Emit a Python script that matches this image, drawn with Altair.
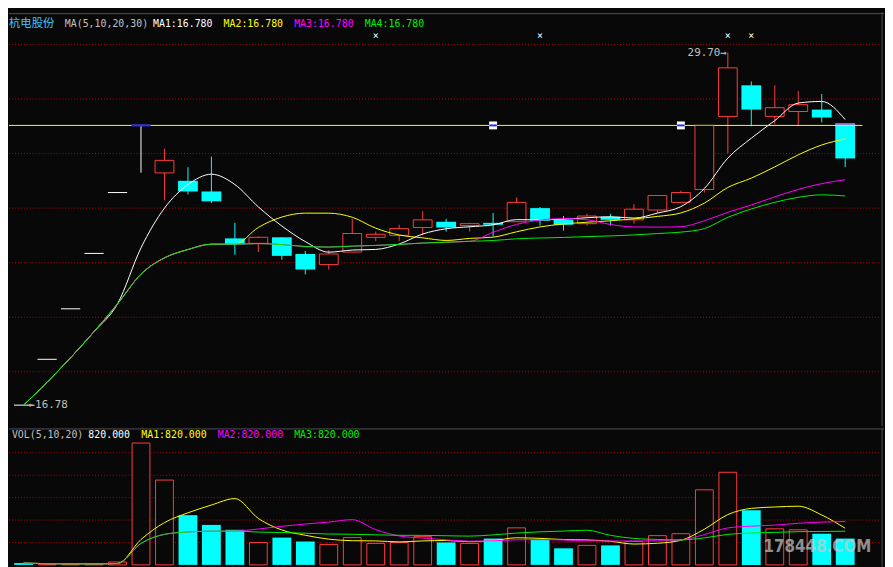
import altair as alt
import pandas as pd

# ---------------- data ----------------
days = list(range(1, 37))
opens = [16.78, 18.46, 20.31, 22.34, 24.57, 27.03, 25.29, 25.00, 24.61, 22.89,
         22.71, 22.93, 22.32, 21.93, 22.39, 22.93, 23.00, 23.29, 23.50, 23.36,
         23.46, 23.50, 24.00, 23.57, 23.43, 23.68, 23.57, 23.93, 24.21, 24.68,
         27.36, 28.50, 27.36, 27.54, 27.61, 27.11]
highs = [16.78, 18.46, 20.31, 22.34, 24.57, 27.03, 26.18, 25.50, 25.89, 23.46,
         22.96, 22.93, 22.43, 22.46, 23.61, 23.14, 23.39, 23.89, 23.61, 23.46,
         23.82, 24.39, 24.04, 23.71, 23.79, 23.79, 24.14, 24.46, 24.64, 27.03,
         29.70, 28.64, 28.50, 28.29, 28.18, 27.11]
lows = [16.78, 18.46, 20.31, 22.34, 24.57, 25.30, 24.29, 24.50, 24.18, 22.29,
        22.39, 22.11, 21.57, 21.75, 22.39, 22.79, 22.79, 23.00, 23.14, 23.14,
        22.96, 23.50, 23.36, 23.18, 23.36, 23.36, 23.43, 23.82, 24.21, 24.57,
        26.00, 27.00, 27.07, 27.00, 27.14, 25.50]
closes = [16.78, 18.46, 20.31, 22.34, 24.57, 27.03, 25.75, 24.61, 24.25, 22.68,
          22.93, 22.25, 21.75, 22.32, 23.07, 23.04, 23.25, 23.57, 23.29, 23.43,
          23.39, 24.21, 23.54, 23.39, 23.71, 23.57, 23.96, 24.46, 24.57, 27.03,
          29.14, 27.61, 27.68, 27.79, 27.32, 25.82]
volumes = [820, 260, 300, 450, 1300, 54350, 37830, 22170, 17830, 15650,
           10000, 12170, 10430, 9130, 12170, 9570, 10000, 12610, 10000, 9570,
           11740, 16520, 11300, 7390, 8700, 8700, 10430, 13040, 13910, 33480,
           41300, 24350, 16090, 15650, 13910, 11740]
vol_side = ["down", "up", "up", "up", "up", "up", "up", "down", "down", "down",
            "up", "down", "down", "up", "up", "up", "up", "up", "down", "up",
            "down", "up", "down", "down", "up", "down", "up", "up", "up", "up",
            "up", "down", "up", "up", "down", "down"]

price_grid = [18, 20, 22, 24, 26, 28, 30]
vol_grid = [10000, 20000, 30000, 40000, 50000]
level_price = 27.03
cross_days = [16, 23, 31, 32]
level_handle_days = [6]
box_handle_days = [21, 29]
green_mark_days = [30]
magenta_mark_days = [36]
magenta_mark_price = 27.08

main_title = "杭电股份"
main_header = ["MA(5,10,20,30)", "MA1:16.780", "MA2:16.780", "MA3:16.780", "MA4:16.780"]
vol_header = ["VOL(5,10,20)", "820.000", "MA1:820.000", "MA2:820.000", "MA3:820.000"]
watermark = "178448.COM"

df = pd.DataFrame({"day": days, "open": opens, "high": highs, "low": lows,
                   "close": closes, "vol": volumes, "side": vol_side})

# ---------------- style / layout ----------------
BG = "#080808"
RED = "#ff3c3c"
CYAN = "#00ffff"
WHITE = "#ffffff"
YELLOW = "#ffff00"
MAGENTA = "#ff00ff"
GREEN = "#00ee00"
GRID = "#c00000"
GRAY = "#c0c0c0"
FRAME = "#505058"
BLUE = "#2a2aff"
TITLE_BLUE = "#3fc6ff"
MONO = "DejaVu Sans Mono"

W, H1, H2 = 885, 419, 140
SX, SY1, SY2 = W / 893, H1 / 425, H2 / 142

xs = alt.Scale(domain=[0.587, 37.443], nice=False, zero=False)
ys = alt.Scale(domain=[16.0, 31.18], nice=False, zero=False)
vs = alt.Scale(domain=[-870, 60870], nice=False, zero=False)


def X(f="day"):
    return alt.X(f"{f}:Q", scale=xs, axis=None)


def Y(f):
    return alt.Y(f"{f}:Q", scale=ys, axis=None)


def V(f):
    return alt.Y(f"{f}:Q", scale=vs, axis=None)


def label(px, py, text, color, size=10, font=MONO, align="left", **kw):
    return alt.Chart(alt.Data(values=[{}])).mark_text(
        text=text, align=align, baseline="middle", font=font, fontSize=size,
        color=color, **kw
    ).encode(x=alt.value(px), y=alt.value(py))


def ma_line(field, n, color, yfn):
    return alt.Chart(df).transform_window(
        ma=f"mean({field})", frame=[-(n - 1), 0], sort=[alt.SortField("day")]
    ).mark_line(color=color, strokeWidth=1, interpolate="monotone").encode(
        x=X(), y=yfn("ma"))


def hline(py, h):
    return alt.Chart(alt.Data(values=[{}])).mark_rule(color=FRAME).encode(
        x=alt.value(0), x2=alt.value(W), y=alt.value(py))


def vline(px, h):
    return alt.Chart(alt.Data(values=[{}])).mark_rule(color=FRAME).encode(
        x=alt.value(px), y=alt.value(0), y2=alt.value(h))


cndl = alt.Chart(df).transform_calculate(
    top="max(datum.open, datum.close)",
    bot="min(datum.open, datum.close)",
    kind="datum.close > datum.open ? 'up' : (datum.close < datum.open ? 'down' : 'flat')",
    dl="datum.day - 0.41",
    dr="datum.day + 0.41",
)

grid = alt.Chart(pd.DataFrame({"p": price_grid})).mark_rule(
    color=GRID, strokeDash=[1, 2], strokeWidth=1).encode(
    y=Y("p"), x=alt.value(0), x2=alt.value(888 * SX))

level = alt.Chart(pd.DataFrame({"p": [level_price]})).mark_rule(
    color=YELLOW, strokeWidth=1).encode(y=Y("p"), x=alt.value(0), x2=alt.value(871 * SX))

wicks = cndl.mark_rule(strokeWidth=1).encode(
    x=X(), y=Y("low"), y2="high:Q",
    color=alt.Color("kind:N", scale=alt.Scale(domain=["up", "down", "flat"],
                                              range=[RED, CYAN, WHITE]), legend=None))

up_bodies = cndl.transform_filter("datum.kind == 'up'").mark_bar(
    size=19, fill=BG, stroke=RED, strokeWidth=1).encode(x=X(), y=Y("top"), y2="bot:Q")

down_bodies = cndl.transform_filter("datum.kind == 'down'").mark_bar(
    size=20, color=CYAN).encode(x=X(), y=Y("top"), y2="bot:Q")

flat_bodies = cndl.transform_filter("datum.kind == 'flat'").mark_rule(
    color=WHITE, strokeWidth=1).encode(x=X("dl"), x2="dr:Q", y=Y("close"))

lvl_df = pd.DataFrame({"day": level_handle_days, "p": [level_price] * len(level_handle_days)})
lvl_handle = alt.Chart(lvl_df).transform_calculate(
    dl="datum.day - 0.41", dr="datum.day + 0.41").mark_rule(
    color=BLUE, strokeWidth=2).encode(x=X("dl"), x2="dr:Q", y=Y("p"))

box_df = pd.DataFrame({"day": box_handle_days, "p": [level_price] * len(box_handle_days)})
box_sq = alt.Chart(box_df).mark_square(size=64, color=WHITE, filled=True, opacity=1).encode(
    x=X(), y=Y("p"))
box_line = alt.Chart(box_df).transform_calculate(
    dl="datum.day - 0.16", dr="datum.day + 0.16").mark_rule(
    color=BLUE, strokeWidth=2).encode(x=X("dl"), x2="dr:Q", y=Y("p"))

gm_df = pd.DataFrame({"day": green_mark_days, "p": [level_price] * len(green_mark_days)})
green_mark = alt.Chart(gm_df).transform_calculate(
    dl="datum.day - 0.41", dr="datum.day + 0.41").mark_rule(
    color=GREEN, strokeWidth=1).encode(x=X("dl"), x2="dr:Q", y=Y("p"))
mm_df = pd.DataFrame({"day": magenta_mark_days, "p": [magenta_mark_price] * len(magenta_mark_days)})
magenta_mark = alt.Chart(mm_df).transform_calculate(
    dl="datum.day - 0.41", dr="datum.day + 0.41").mark_rule(
    color=MAGENTA, strokeWidth=1).encode(x=X("dl"), x2="dr:Q", y=Y("p"))

crosses = alt.Chart(pd.DataFrame({"day": cross_days})).mark_text(
    text="×", color=WHITE, fontSize=10, font=MONO, baseline="middle").encode(
    x=X(), y=alt.value(24 * SY1))

hi_label = alt.Chart(df).transform_joinaggregate(hmax="max(high)").transform_filter(
    "datum.high == datum.hmax").transform_calculate(
    label="format(datum.high, '.2f') + '→'").mark_text(
    align="right", baseline="middle", dx=-1, font=MONO, fontSize=11, color=GRAY).encode(
    x=X(), y=Y("high"), text="label:N")

lo_label = alt.Chart(df).transform_joinaggregate(lmin="min(low)").transform_filter(
    "datum.low == datum.lmin").transform_calculate(
    label="'←' + format(datum.low, '.2f')").mark_text(
    align="left", baseline="middle", dx=5, font=MONO, fontSize=11, color=GRAY).encode(
    x=X(), y=Y("low"), text="label:N")

main_cols = [GRAY, WHITE, YELLOW, MAGENTA, GREEN]
main_xs = [57, 147, 219, 291, 363]
main_layers = [grid, wicks, up_bodies, down_bodies, flat_bodies,
               ma_line("close", 5, WHITE, Y), ma_line("close", 10, YELLOW, Y),
               ma_line("close", 20, MAGENTA, Y), ma_line("close", 30, GREEN, Y),
               level, lvl_handle, box_sq, box_line, green_mark, magenta_mark,
               crosses, hi_label, lo_label,
               label(0, 12 * SY1, main_title, TITLE_BLUE, size=11.5, font="Noto Sans CJK SC"),
               hline(1.5, H1), vline(891 * SX, H1)]
for t, c, px in zip(main_header, main_cols, main_xs):
    main_layers.append(label(px * SX, 12 * SY1, t, c))

main = alt.layer(*main_layers).properties(width=W, height=H1)

# ---------------- volume panel ----------------
vgrid = alt.Chart(pd.DataFrame({"v": vol_grid})).mark_rule(
    color=GRID, strokeDash=[1, 2], strokeWidth=1).encode(
    y=V("v"), x=alt.value(0), x2=alt.value(888 * SX))

vbase = alt.Chart(df).transform_calculate(zero="0")
vup = vbase.transform_filter("datum.side == 'up'").mark_bar(
    size=18, fill=BG, stroke=RED, strokeWidth=1).encode(x=X(), y=V("vol"), y2="zero:Q")
vdown = vbase.transform_filter("datum.side == 'down'").mark_bar(
    size=19, color=CYAN).encode(x=X(), y=V("vol"), y2="zero:Q")

vol_cols = [GRAY, WHITE, YELLOW, MAGENTA, GREEN]
vol_xs = [3, 81, 135, 213, 291]
vol_layers = [vgrid, vup, vdown,
              ma_line("vol", 5, YELLOW, V), ma_line("vol", 10, MAGENTA, V),
              ma_line("vol", 20, GREEN, V),
              label(825 * SX, 122 * SY2, watermark, "#c8c8c8", size=17,
                    font="DejaVu Sans Condensed", align="center",
                    fontWeight="bold", opacity=0.7),
              hline(0.5, H2), vline(891 * SX, H2)]
for t, c, px in zip(vol_header, vol_cols, vol_xs):
    vol_layers.append(label(px * SX, 7 * SY2, t, c))

vol = alt.layer(*vol_layers).properties(width=W, height=H2)

chart = alt.vconcat(main, vol, spacing=0).properties(
    padding=0, background=BG).configure_view(stroke=None)

chart.save("out.html", embed_options={"renderer": "svg", "actions": False})
